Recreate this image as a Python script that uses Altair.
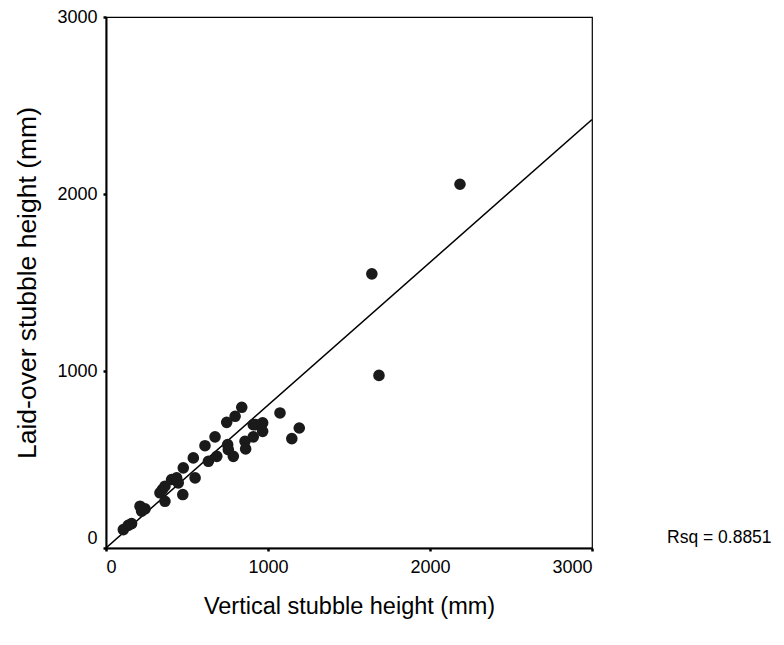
import altair as alt
import pandas as pd

vertical = [107, 137, 158, 210, 220, 241, 333, 348, 364, 364, 405, 436, 446, 474, 477,
            539, 550, 611, 632, 673, 684, 745, 751, 755, 786, 797, 838, 858, 862, 909,
            909, 924, 967, 967, 1074, 1147, 1193, 1641, 1685, 2185]
laid = [104, 128, 138, 236, 208, 221, 312, 330, 264, 349, 387, 396, 368, 302, 453,
        509, 396, 578, 490, 628, 518, 710, 584, 556, 518, 744, 795, 603, 560, 697,
        628, 697, 707, 659, 763, 618, 678, 1549, 975, 2055]
ticks = [0, 1000, 2000, 3000]
# fit line: laid = intercept + slope * vertical
fit_intercept = 0
fit_slope = 0.807
fit_extent = [0, 3000]
rsq_label = "Rsq = 0.8851"

df = pd.DataFrame({"v": vertical, "l": laid})
FONT = "Liberation Sans"

xs = alt.Scale(domain=[0, 3000], nice=False, zero=False)
ys = alt.Scale(domain=[0, 3000], nice=False, zero=False)

xaxis = alt.Axis(values=ticks, grid=False, format="d", title="Vertical stubble height (mm)",
                 domainColor="black", domainWidth=2, tickColor="black", tickSize=3, tickWidth=2.5,
                 labelFont=FONT, labelFontSize=18, labelColor="black", labelPadding=7,
                 titleFont=FONT, titleFontSize=23.5, titleFontWeight="normal", titleColor="black",
                 titlePadding=18)
yaxis = alt.Axis(values=ticks, grid=False, format="d", title="Laid-over stubble height (mm)",
                 domainColor="black", domainWidth=2, tickColor="black", tickSize=3, tickWidth=2.5,
                 labelFont=FONT, labelFontSize=18, labelColor="black", labelPadding=6,
                 labelOffset=alt.ExprRef("datum.value == 0 ? -10 : 0"),
                 titleFont=FONT, titleFontSize=26.5, titleFontWeight="normal", titleColor="black",
                 titlePadding=15)

base = alt.Chart(df)

points = base.mark_circle(size=135, color="#1a1a1a", opacity=1).encode(
    x=alt.X("v:Q", scale=xs, axis=xaxis),
    y=alt.Y("l:Q", scale=ys, axis=yaxis),
)

fit_df = pd.DataFrame({"v": fit_extent})
line = alt.Chart(fit_df).transform_calculate(
    l=f"{fit_intercept} + {fit_slope} * datum.v"
).mark_line(color="black", strokeWidth=1.5, clip=True).encode(
    x=alt.X("v:Q", scale=xs), y=alt.Y("l:Q", scale=ys)
)

rsq = alt.Chart(pd.DataFrame({"t": [rsq_label]})).mark_text(
    font=FONT, fontSize=17.5, align="left", baseline="middle", color="black"
).encode(text="t:N", x=alt.value(561), y=alt.value(521))

chart = alt.layer(line, points, rsq).properties(
    width=486, height=531,
    padding={"left": 98, "top": 9, "right": 184, "bottom": 89},
    autosize=alt.AutoSizeParams(type="none"),
    background="white",
).configure_view(stroke="black", strokeWidth=1.2)

chart.save("out.html", embed_options={"renderer": "svg", "actions": False})
